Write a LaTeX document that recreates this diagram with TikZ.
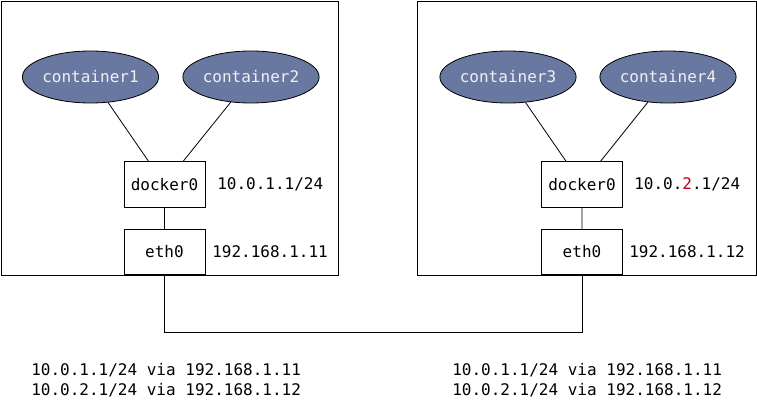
\documentclass[tikz,border=0pt]{standalone}
\usepackage{fontspec}
\setmonofont{DejaVu Sans Mono}
\usetikzlibrary{shapes.geometric}
\definecolor{ctrfill}{RGB}{104,120,160}
\definecolor{netred}{RGB}{190,0,30}
\tikzset{every node/.style={font=\ttfamily\fontsize{12}{15}\selectfont},
  host/.style={draw,line width=.65pt},
  ctr/.style={ellipse,draw,line width=.6pt,fill=ctrfill,text=white!94!black,minimum width=99pt,minimum height=39pt,inner sep=0},
  iface/.style={draw,line width=.65pt,fill=white,minimum width=60.75pt,minimum height=34pt,inner sep=0},
  lbl/.style={anchor=west,inner sep=0},
  link/.style={line width=.6pt}}

\begin{document}
\begin{tikzpicture}[x=.75pt,y=-.75pt]
\useasboundingbox (0,0) rectangle (757,407);
% hosts
\draw[host] (1,1) rectangle (338,275);
\draw[host] (417,1) rectangle (756,275);
% host 1
\node[ctr] (c1) at (90.5,77) {container1};
\node[ctr] (c2) at (251,77) {container2};
\node[iface] (d1) at (164.5,184.5) {docker0};
\node[iface] (e1) at (164.5,252) {eth0};
\node[lbl] (ip1) at (217,184.5) {10.0.1.1/24};
\node[lbl] (ip2) at (212,252) {192.168.1.11};
% host 2
\node[ctr] (c3) at (508,77) {container3};
\node[ctr] (c4) at (668,77) {container4};
\node[iface] (d2) at (582,184.5) {docker0};
\node[iface] (e2) at (582,252) {eth0};
\node[lbl] (ip3) at (634,184.5) {10.0.\textcolor{netred}{2}.1/24};
\node[lbl] (ip4) at (629,252) {192.168.1.12};
% links
\draw[link] (c1)--(d1) (c2)--(d1) (d1)--(e1);
\draw[link] (c3)--(d2) (c4)--(d2) (d2)--(e2);
\draw[link] (e1.south) -- ++(0,57) -| (e2.south);
% routes
\node[anchor=north west,inner sep=0,align=left] (r1) at (31,363) {10.0.1.1/24 via 192.168.1.11\\10.0.2.1/24 via 192.168.1.12};
\node[anchor=north west,inner sep=0,align=left] (r2) at (452,363) {10.0.1.1/24 via 192.168.1.11\\10.0.2.1/24 via 192.168.1.12};
\end{tikzpicture}
\end{document}
